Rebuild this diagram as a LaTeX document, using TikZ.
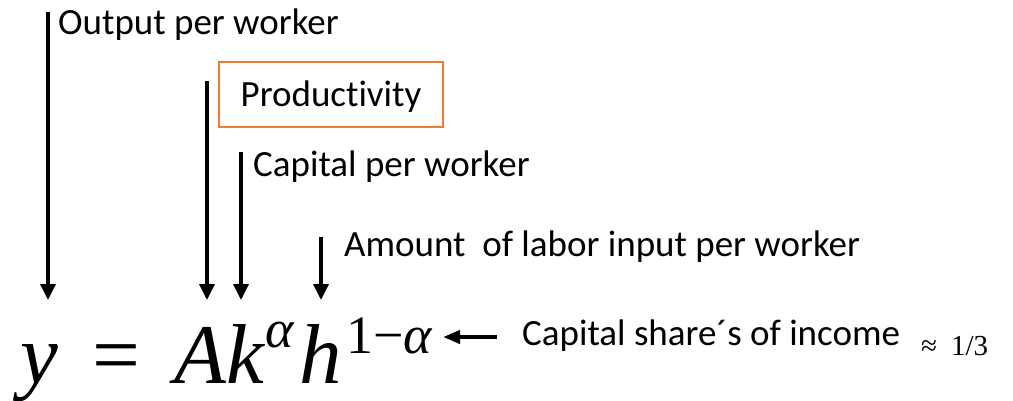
\documentclass[tikz,border=0pt]{standalone}
\usepackage{fontspec}
\setmainfont{Carlito}[Ligatures=NoCommon]
\newfontfamily\tms{Liberation Serif}[ItalicFont={Liberation Serif Italic}]
\usetikzlibrary{arrows.meta}
\definecolor{boxorange}{HTML}{ED7D31}
\tikzset{
  lbl/.style={inner sep=0pt, anchor=base west, font=\fontsize{37}{40}\selectfont},
  eqbig/.style={inner sep=0pt, anchor=base west, font=\fontsize{85}{85}\selectfont\tms},
  eqsup/.style={inner sep=0pt, anchor=base west, font=\fontsize{54}{54}\selectfont\tms},
  down/.style={line width=3.5pt, -{Triangle[length=16pt,width=15pt]}},
  leftarr/.style={line width=4pt, -{Triangle[length=17pt,width=13pt]}}
}
\begin{document}
\begin{tikzpicture}[x=1pt,y=-1pt]
\useasboundingbox (0,0) rectangle (1013,401);
% labels
\node[lbl] (out) at (58,35) {Output per worker};
\node[draw=boxorange, line width=1.5pt, inner sep=0pt, minimum width=224pt, minimum height=65pt,
      text height=33pt, text depth=8pt, font=\fontsize{37}{40}\selectfont] (prod) at (331,94.5) {Productivity};
\node[lbl] (cap) at (253,177) {Capital per worker};
\node[lbl] (lab) at (344,257) {Amount\ \ of labor input per worker};
\node[lbl] (share) at (522,345) {Capital share´s of income};
\node[inner sep=0pt, anchor=base west, font=\fontsize{29}{29}\selectfont\tms] (third) at (921,355) {≈\hspace{14pt}1/3};
% equation
\node[eqbig] (y) at (20,383) {\itshape y};
\node[eqbig] (eq) at (92,383) {=};
\node[eqbig] (Ak) at (174,383) {\itshape Ak};
\node[eqsup] (ka) at (265,347) {\itshape α};
\node[eqbig] (h) at (299,383) {\itshape h};
\node[eqsup] (ha) at (346,353) {1−\itshape α};
% arrow end points
\coordinate (t1) at (48,12);   \coordinate (e1) at (48,300);
\coordinate (t2) at (207,81);  \coordinate (e2) at (207,300);
\coordinate (t3) at (241,152); \coordinate (e3) at (241,300);
\coordinate (t4) at (321,237); \coordinate (e4) at (321,300);
\coordinate (t5) at (497,337); \coordinate (e5) at (443,337);
\draw[down] (t1) -- (e1);
\draw[down] (t2) -- (e2);
\draw[down] (t3) -- (e3);
\draw[down] (t4) -- (e4);
\draw[leftarr] (t5) -- (e5);
\end{tikzpicture}
\end{document}
